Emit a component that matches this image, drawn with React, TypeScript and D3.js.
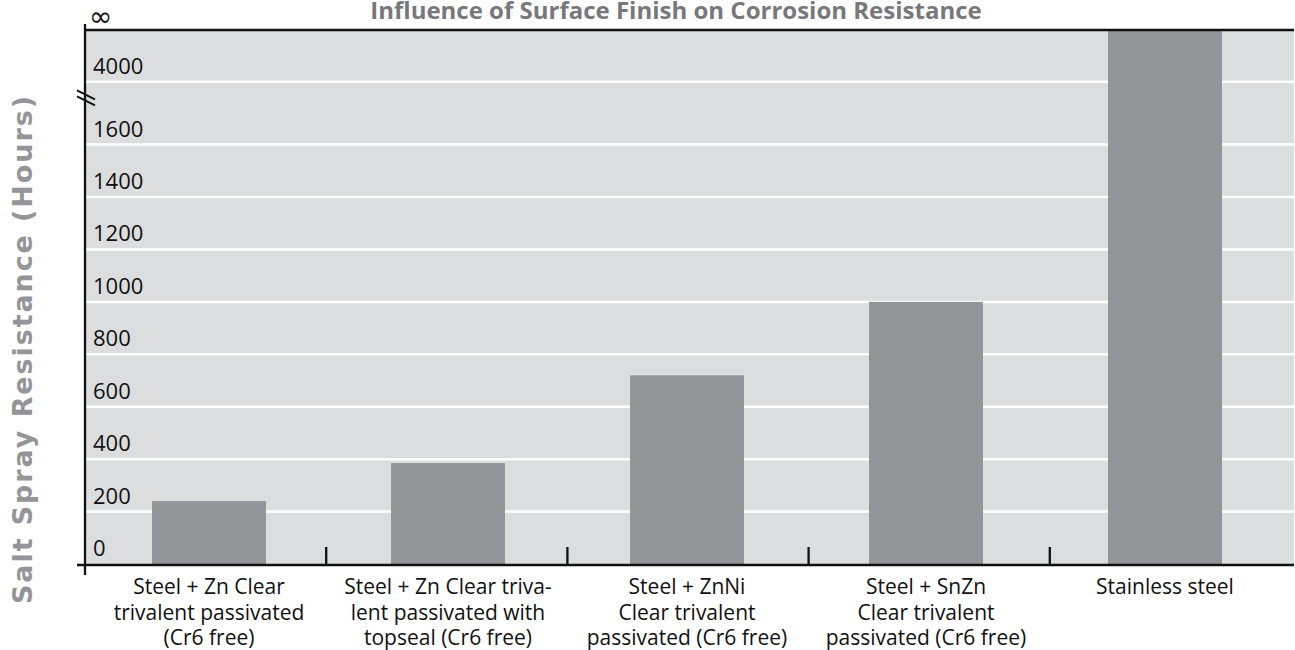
import React from "react";
import * as d3 from "d3";

const categories = [
  "Steel + Zn Clear trivalent passivated (Cr6 free)",
  "Steel + Zn Clear trivalent passivated with topseal (Cr6 free)",
  "Steel + ZnNi Clear trivalent passivated (Cr6 free)",
  "Steel + SnZn Clear trivalent passivated (Cr6 free)",
  "Stainless steel",
];
const categoryLines = [
  ["Steel + Zn Clear", "trivalent passivated", "(Cr6 free)"],
  ["Steel + Zn Clear triva-", "lent passivated with", "topseal (Cr6 free)"],
  ["Steel + ZnNi", "Clear trivalent", "passivated (Cr6 free)"],
  ["Steel + SnZn", "Clear trivalent", "passivated (Cr6 free)"],
  ["Stainless steel"],
];
const values = [240, 385, 720, 1000, Infinity];
const yTickValues = [0, 200, 400, 600, 800, 1000, 1200, 1400, 1600, 4000];
const yTickLabels = ["0", "200", "400", "600", "800", "1000", "1200", "1400", "1600", "4000"];
const gridValues = [200, 400, 600, 800, 1000, 1200, 1400, 1600, 4000];
const INF = 6000;

const W = 1295;
const H = 650;
const FONT = "'Open Sans', 'DejaVu Sans', sans-serif";

export default function App() {
  const left = 85;
  const right = 1294;
  const y = d3
    .scaleLinear()
    .domain([0, 1600, 4000, INF])
    .range([564, 144.6, 81.7, 30])
    .clamp(true);
  const xBars = d3
    .scaleBand<string>()
    .domain(categories)
    .range([89.5, 1284.5])
    .paddingInner(0.523)
    .paddingOuter(0.2615);
  const xTicks = d3.scaleBand<string>().domain(categories).range([85, 1291]);
  const axisY = 565;
  const breakY = y(3400);

  return (
    <svg
      width={W}
      height={H}
      style={{ position: "absolute", left: 0, top: 0, background: "#fff" }}
      fontFamily={FONT}
    >
      <rect x={left} y={y(INF)} width={right - left} height={axisY - y(INF)} fill="#dcdddf" />
      {gridValues.map((v) => (
        <line key={v} x1={left} x2={right} y1={y(v)} y2={y(v)} stroke="#ffffff" strokeWidth={2.5} />
      ))}
      {categories.map((c, i) => {
        const top = y(values[i]);
        return (
          <rect key={c} x={xBars(c)} y={top} width={xBars.bandwidth()} height={axisY - top} fill="#939598" />
        );
      })}
      {yTickValues.map((v, i) => (
        <text key={v} x={93} y={y(v) - 8} fontSize={22} fill="#111">
          {yTickLabels[i]}
        </text>
      ))}
      {/* top frame line */}
      <line x1={left} x2={right} y1={y(INF)} y2={y(INF)} stroke="#111" strokeWidth={2.3} />
      {/* y axis */}
      <line x1={left} x2={left} y1={24} y2={575} stroke="#111" strokeWidth={2.3} />
      {/* x axis */}
      <line x1={77} x2={right} y1={axisY} y2={axisY} stroke="#111" strokeWidth={2.3} />
      {/* category ticks */}
      {categories.slice(0, -1).map((c) => {
        const tx = (xTicks(c) as number) + xTicks.step();
        return <line key={c} x1={tx} x2={tx} y1={547} y2={axisY} stroke="#111" strokeWidth={2.3} />;
      })}
      {/* axis break */}
      <line x1={77} y1={breakY - 7} x2={95} y2={breakY + 2} stroke="#111" strokeWidth={2} />
      <line x1={77} y1={breakY - 1} x2={95} y2={breakY + 8} stroke="#111" strokeWidth={2} />
      {/* infinity */}
      <text x={89} y={26} fontSize={28} fill="#111" fontFamily="'DejaVu Sans', sans-serif">
        ∞
      </text>
      {/* category labels */}
      {categories.map((c, i) => (
        <text
          key={c}
          x={(xBars(c) as number) + xBars.bandwidth() / 2}
          y={594}
          fontSize={21}
          textAnchor="middle"
          fill="#111"
        >
          {categoryLines[i].map((l, j) => (
            <tspan key={j} x={(xBars(c) as number) + xBars.bandwidth() / 2} dy={j === 0 ? 0 : 25.5}>
              {l}
            </tspan>
          ))}
        </text>
      ))}
      {/* title */}
      <text x={676} y={19} fontSize={24} fontWeight="bold" textAnchor="middle" fill="#77787b">
        Influence of Surface Finish on Corrosion Resistance
      </text>
      {/* y axis title */}
      <text
        transform={`translate(32, 350) rotate(-90)`}
        fontSize={27}
        fontWeight="bold"
        textAnchor="middle"
        fill="#939598"
        fontFamily="'DejaVu Sans', sans-serif"
        textLength={508}
        lengthAdjust="spacing"
      >
        Salt Spray Resistance (Hours)
      </text>
    </svg>
  );
}
